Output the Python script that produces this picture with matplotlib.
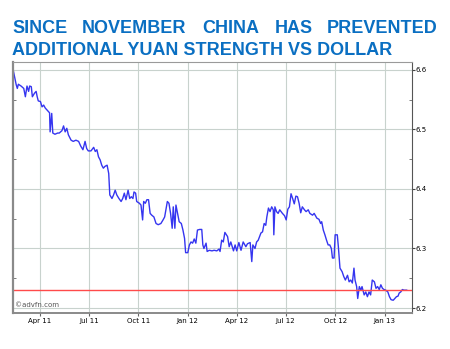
import numpy as np
import pandas as pd
import matplotlib
matplotlib.use("Agg")
import matplotlib.pyplot as plt
import matplotlib.dates as mdates

# USD/CNY, days counted from the first quote
start = pd.Timestamp("2011-02-11")
day = [0, 5, 7, 9, 14, 19, 22, 25, 28, 30, 33, 35, 39, 42, 44, 46, 50, 53, 56, 59,
       63, 67, 68, 71, 73, 77, 82, 85, 90, 93, 96, 99, 102, 107, 111, 116, 121, 125,
       129, 133, 136, 139, 144, 149, 152, 155, 158, 161, 164, 167, 170, 174, 177,
       179, 183, 186, 189, 192, 196, 200, 203, 206, 209, 213, 216, 219, 222, 224,
       227, 229, 234, 237, 240, 242, 245, 248, 251, 254, 257, 261, 265, 269, 274,
       278, 281, 284, 286, 289, 292, 295, 297, 300, 302, 305, 308, 312, 315, 318,
       320, 324, 327, 330, 333, 336, 339, 342, 346, 350, 352, 354, 358, 360, 364,
       369, 373, 378, 382, 384, 387, 390, 393, 398, 401, 404, 409, 412, 415, 419,
       423, 427, 432, 435, 440, 443, 445, 449, 452, 455, 460, 463, 466, 469, 471,
       474, 477, 480, 483, 484, 486, 489, 492, 495, 500, 504, 507, 510, 513, 516,
       519, 522, 525, 528, 531, 534, 537, 541, 544, 548, 551, 556, 559, 564, 568,
       571, 573, 576, 579, 582, 585, 588, 591, 593, 596, 598, 602, 604, 607, 611,
       614, 617, 621, 624, 627, 630, 633, 635, 638, 640, 643, 646, 648, 652, 655,
       658, 661, 664, 667, 671, 674, 677, 680, 683, 686, 689, 692, 696, 699, 702,
       706, 709, 712, 715, 717, 720, 723, 726, 731]
rate = [6.597, 6.575, 6.569, 6.576, 6.573, 6.569, 6.555, 6.573, 6.564, 6.573,
        6.572, 6.555, 6.561, 6.564, 6.555, 6.548, 6.547, 6.538, 6.541, 6.536,
        6.532, 6.528, 6.496, 6.527, 6.494, 6.492, 6.494, 6.494, 6.498, 6.506,
        6.496, 6.502, 6.491, 6.482, 6.480, 6.482, 6.480, 6.472, 6.466, 6.480,
        6.468, 6.464, 6.464, 6.470, 6.463, 6.466, 6.454, 6.449, 6.440, 6.435,
        6.438, 6.440, 6.426, 6.390, 6.384, 6.390, 6.398, 6.390, 6.384, 6.379,
        6.384, 6.393, 6.382, 6.398, 6.384, 6.387, 6.384, 6.395, 6.393, 6.379,
        6.376, 6.373, 6.348, 6.379, 6.376, 6.382, 6.382, 6.359, 6.356, 6.353,
        6.342, 6.340, 6.342, 6.348, 6.353, 6.368, 6.379, 6.376, 6.359, 6.334,
        6.370, 6.334, 6.373, 6.359, 6.345, 6.342, 6.331, 6.317, 6.293, 6.293,
        6.306, 6.311, 6.309, 6.316, 6.309, 6.331, 6.332, 6.332, 6.306, 6.300,
        6.309, 6.295, 6.297, 6.296, 6.297, 6.296, 6.299, 6.295, 6.314, 6.311,
        6.327, 6.320, 6.303, 6.311, 6.296, 6.306, 6.296, 6.310, 6.297, 6.311,
        6.303, 6.308, 6.310, 6.278, 6.306, 6.300, 6.311, 6.314, 6.326, 6.328,
        6.342, 6.339, 6.353, 6.368, 6.362, 6.370, 6.365, 6.323, 6.370, 6.362,
        6.359, 6.365, 6.359, 6.355, 6.348, 6.366, 6.370, 6.392, 6.384, 6.375,
        6.388, 6.387, 6.376, 6.360, 6.370, 6.365, 6.362, 6.365, 6.359, 6.356,
        6.359, 6.351, 6.349, 6.342, 6.345, 6.331, 6.323, 6.314, 6.306, 6.306,
        6.300, 6.284, 6.284, 6.323, 6.323, 6.303, 6.267, 6.261, 6.253, 6.247,
        6.255, 6.244, 6.247, 6.242, 6.267, 6.247, 6.236, 6.216, 6.236, 6.230,
        6.236, 6.222, 6.227, 6.219, 6.227, 6.222, 6.247, 6.244, 6.233, 6.236,
        6.231, 6.239, 6.233, 6.231, 6.230, 6.227, 6.219, 6.214, 6.213, 6.216,
        6.219, 6.220, 6.225, 6.227, 6.231, 6.230, 6.230]
floor_level = 6.23

dates = start + pd.to_timedelta(day, unit="D")

fig = plt.figure(figsize=(4.5, 3.49), dpi=100)
ax = fig.add_axes([13 / 450, 36 / 349, 398.5 / 450, 251 / 349])

ax.plot(dates, rate, color="#3535f0", lw=1.0)
ax.axhline(floor_level, color="#ff4a4a", lw=1.0)

ax.set_xlim(start - pd.Timedelta(days=1), start + pd.Timedelta(days=740))
ax.set_ylim(6.1916, 6.6134)

ax.xaxis.set_major_locator(mdates.MonthLocator(bymonth=[1, 4, 7, 10]))
ax.xaxis.set_major_formatter(mdates.DateFormatter("%b %y"))
ax.set_yticks([6.2, 6.3, 6.4, 6.5, 6.6])
ax.set_yticks([6.25, 6.35, 6.45, 6.55], minor=True)

ax.grid(True, which="major", color="#c8d2cd", lw=0.8)
ax.yaxis.tick_right()
ax.tick_params(axis="x", labelsize=5, length=2, pad=1.5, color="#666666")
ax.tick_params(axis="y", which="major", labelsize=5, length=2, pad=1, color="#444444")
ax.tick_params(axis="y", which="minor", length=2, direction="in", left=True, right=True,
               color="#666666")

for side, col, w in [("left", "#8a8a8a", 1.6), ("bottom", "#8a8a8a", 1.4),
                     ("top", "#9a9a9a", 0.8), ("right", "#555555", 0.8)]:
    ax.spines[side].set_color(col)
    ax.spines[side].set_linewidth(w)

ax.text(0.006, 0.02, "©advfn.com", transform=ax.transAxes, fontsize=5,
        color="#555555", ha="left", va="bottom")

# two-line heading, first line spread across the width
title_font = dict(family="Liberation Sans", weight="bold", fontsize=13,
                  color="#0a6fc2", va="baseline")
line1 = ["SINCE", "NOVEMBER", "CHINA", "HAS"]
line1_x = [12, 82, 202, 275]
for word, x in zip(line1, line1_x):
    fig.text(x / 450, 1 - 33.3 / 349, word, ha="left", **title_font)
fig.text(437 / 450, 1 - 33.3 / 349, "PREVENTED", ha="right", **title_font)
fig.text(12 / 450, 1 - 55 / 349, "ADDITIONAL YUAN STRENGTH VS DOLLAR", ha="left",
         **title_font)

fig.savefig("out.png", dpi=100)
